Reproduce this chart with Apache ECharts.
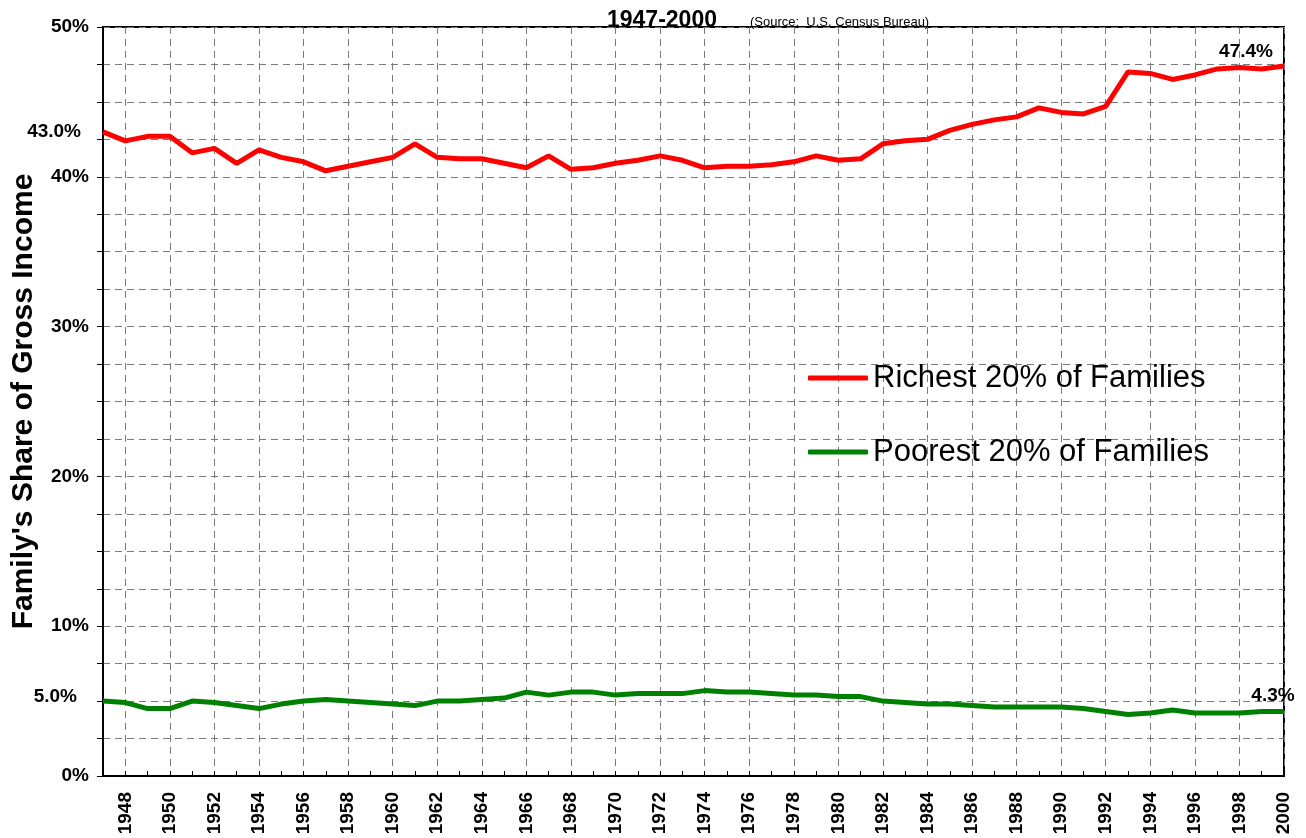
<!DOCTYPE html>
<html>
<head>
<meta charset="utf-8">
<title>Family's Share of Gross Income 1947-2000</title>
<script src="https://cdn.jsdelivr.net/npm/echarts@6/dist/echarts.min.js"></script>
<style>
  html, body { margin: 0; padding: 0; background: #fff; }
  #chart { width: 1306px; height: 838px; }
</style>
</head>
<body>
<div id="chart"></div>
<script>
// data (Census Bureau, share of income by quintile)
const years = [
  '1947', '1948', '1949', '1950', '1951', '1952', '1953', '1954', '1955', '1956',
  '1957', '1958', '1959', '1960', '1961', '1962', '1963', '1964', '1965', '1966',
  '1967', '1968', '1969', '1970', '1971', '1972', '1973', '1974', '1975', '1976',
  '1977', '1978', '1979', '1980', '1981', '1982', '1983', '1984', '1985', '1986',
  '1987', '1988', '1989', '1990', '1991', '1992', '1993', '1994', '1995', '1996',
  '1997', '1998', '1999', '2000'
]

const richest = [
  43.0, 42.4, 42.7, 42.7, 41.6, 41.9, 40.9, 41.8, 41.3, 41.0,
  40.4, 40.7, 41.0, 41.3, 42.2, 41.3, 41.2, 41.2, 40.9, 40.6,
  41.4, 40.5, 40.6, 40.9, 41.1, 41.4, 41.1, 40.6, 40.7, 40.7,
  40.8, 41.0, 41.4, 41.1, 41.2, 42.2, 42.4, 42.5, 43.1, 43.5,
  43.8, 44.0, 44.6, 44.3, 44.2, 44.7, 47.0, 46.9, 46.5, 46.8,
  47.2, 47.3, 47.2, 47.4
]

const poorest = [
  5.0, 4.9, 4.5, 4.5, 5.0, 4.9, 4.7, 4.5, 4.8, 5.0,
  5.1, 5.0, 4.9, 4.8, 4.7, 5.0, 5.0, 5.1, 5.2, 5.6,
  5.4, 5.6, 5.6, 5.4, 5.5, 5.5, 5.5, 5.7, 5.6, 5.6,
  5.5, 5.4, 5.4, 5.3, 5.3, 5.0, 4.9, 4.8, 4.8, 4.7,
  4.6, 4.6, 4.6, 4.6, 4.5, 4.3, 4.1, 4.2, 4.4, 4.2,
  4.2, 4.2, 4.3, 4.3
]

const seriesNames = ['Richest 20% of Families', 'Poorest 20% of Families']
const yLabelValues = [0, 10, 20, 30, 40, 50]

const FONT = 'Arial, "Liberation Sans", sans-serif'

const endLabel = {
  show: true,
  color: '#000',
  fontFamily: FONT,
  fontWeight: 'bold',
  fontSize: 19,
  formatter: p => p.value.toFixed(1) + '%'
}

// only the first and last points carry a value label
function withEndLabels(values, firstLabel, lastLabel) {
  return values.map((v, i) => {
    if (i === 0) return { value: v, label: Object.assign({}, endLabel, firstLabel) }
    if (i === values.length - 1) return { value: v, label: Object.assign({}, endLabel, lastLabel) }
    return v
  })
}

const chart = echarts.init(document.getElementById('chart'), null, { renderer: 'canvas' })

const dashed = { color: '#7a7a7a', width: 1, type: [7, 5] }

chart.setOption({
  animation: false,
  backgroundColor: '#fff',
  title: [
    {
      text: '1947-2000',
      left: 602,
      top: 4,
      textStyle: { fontFamily: FONT, fontWeight: 'bold', fontSize: 23, color: '#000' }
    },
    {
      text: '(Source:  U.S. Census Bureau)',
      left: 745,
      top: 11,
      textStyle: { fontFamily: FONT, fontWeight: 'normal', fontSize: 13, color: '#000' }
    }
  ],
  legend: {
    orient: 'vertical',
    left: 803,
    top: 356,
    itemGap: 40,
    itemWidth: 60,
    itemHeight: 5,
    icon: 'roundRect',
    data: seriesNames,
    textStyle: { fontFamily: FONT, fontSize: 31, color: '#000', lineHeight: 34 }
  },
  grid: {
    left: 103,
    right: 22,
    top: 27,
    bottom: 62,
    show: true,
    borderColor: '#000',
    borderWidth: 2,
    containLabel: false,
    outerBoundsMode: 'none'
  },
  xAxis: {
    type: 'category',
    data: years,
    boundaryGap: false,
    axisLine: { lineStyle: { color: '#000', width: 2 } },
    axisTick: { show: true, interval: 0, inside: true, length: 5, lineStyle: { color: '#000', width: 1 } },
    axisLabel: {
      interval: (i, v) => Number(v) % 2 === 0,
      rotate: 90,
      margin: 16,
      color: '#000',
      fontFamily: FONT,
      fontWeight: 'bold',
      fontSize: 19
    },
    splitLine: {
      show: true,
      interval: (i, v) => Number(v) % 2 === 0,
      lineStyle: dashed
    }
  },
  yAxis: {
    type: 'value',
    min: 0,
    max: 50,
    interval: 2.5,
    name: "Family's Share of Gross Income",
    nameLocation: 'middle',
    nameGap: 64,
    nameTextStyle: { fontFamily: FONT, fontWeight: 'bold', fontSize: 30, color: '#000' },
    axisLine: { show: true, lineStyle: { color: '#000', width: 2 } },
    axisTick: { show: true, length: 6, lineStyle: { color: '#000', width: 1 } },
    axisLabel: {
      margin: 14,
      color: '#000',
      fontFamily: FONT,
      fontWeight: 'bold',
      fontSize: 19,
      formatter: v => (yLabelValues.indexOf(v) >= 0 ? v + '%' : '')
    },
    splitLine: { show: true, lineStyle: dashed }
  },
  series: [
    {
      name: seriesNames[0],
      type: 'line',
      data: withEndLabels(richest,
        { position: 'left', distance: 22 },
        { position: 'top', distance: 5, offset: [-38, 0] }),
      showSymbol: true,
      symbol: 'circle',
      symbolSize: 0,
      color: '#ff0000',
      lineStyle: { color: '#ff0000', width: 5 },
      z: 3
    },
    {
      name: seriesNames[1],
      type: 'line',
      data: withEndLabels(poorest,
        { position: 'left', distance: 26, offset: [0, -4] },
        { position: 'top', distance: 6, offset: [-11, 0] }),
      showSymbol: true,
      symbol: 'circle',
      symbolSize: 0,
      color: '#008000',
      lineStyle: { color: '#008000', width: 5 },
      z: 3
    }
  ]
})
</script>
</body>
</html>
